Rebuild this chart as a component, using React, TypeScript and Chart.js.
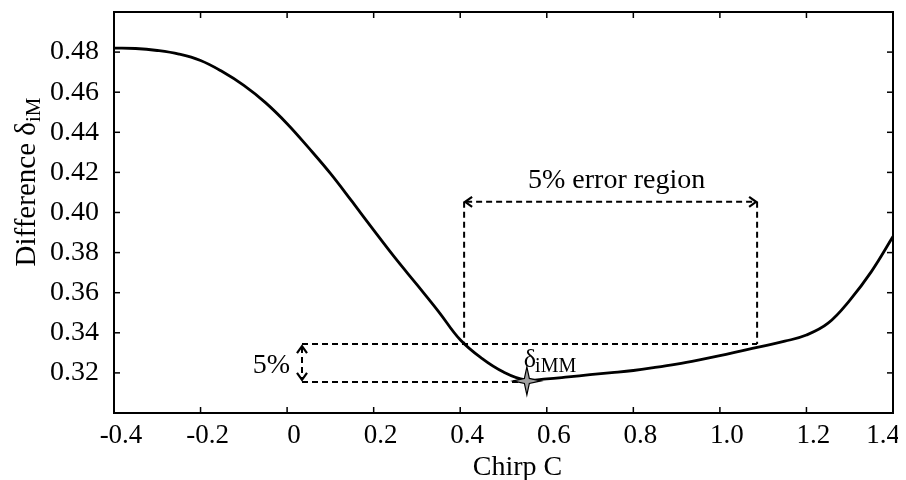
import React, { useEffect, useRef } from "react";
import { Chart, registerables } from "chart.js";

Chart.register(...registerables);

// ---- data ----
const chirp = [
  -0.4, -0.35, -0.3, -0.25, -0.2, -0.15, -0.1, -0.05, 0.0, 0.05, 0.1, 0.15, 0.2,
  0.25, 0.3, 0.35, 0.4, 0.45, 0.5, 0.55, 0.6, 0.65, 0.7, 0.75, 0.8, 0.85, 0.9,
  0.95, 1.0, 1.05, 1.1, 1.15, 1.2, 1.25, 1.3, 1.35, 1.4,
];
const difference = [
  0.482, 0.4818, 0.4808, 0.479, 0.4758, 0.4703, 0.4634, 0.4548, 0.4443, 0.4322,
  0.4195, 0.4055, 0.3912, 0.3772, 0.3640, 0.3506, 0.3365, 0.3272, 0.3204, 0.3165,
  0.317, 0.318, 0.3191, 0.3201, 0.3212, 0.3227, 0.3244, 0.3264, 0.3286, 0.331,
  0.3334, 0.3358, 0.3389, 0.3448, 0.3562, 0.3705, 0.388,
];

const xTicks = [-0.4, -0.2, 0, 0.2, 0.4, 0.6, 0.8, 1.0, 1.2, 1.4];
const xTickLabels = ["-0.4", "-0.2", "0", "0.2", "0.4", "0.6", "0.8", "1.0", "1.2", "1.4"];
const yTicks = [0.32, 0.34, 0.36, 0.38, 0.4, 0.42, 0.44, 0.46, 0.48];
const yTickLabels = ["0.32", "0.34", "0.36", "0.38", "0.40", "0.42", "0.44", "0.46", "0.48"];

const errorRegionX = [0.409, 1.086];
const errorRegionY = [0.3344, 0.4053];
const minimumLevel = 0.3155;
const toleranceX = 0.0344;
const minimumPoint = [0.554, 0.316];

const SERIF = "'Liberation Serif', 'Times New Roman', serif";
const W = 898;
const H = 472;

const annotations = {
  id: "annotations",
  afterDatasetsDraw(chart: any) {
    const { ctx, chartArea: a } = chart;
    const x = chart.scales.x;
    const y = chart.scales.y;
    const line = (x1: number, y1: number, x2: number, y2: number) => {
      ctx.beginPath();
      ctx.moveTo(x1, y1);
      ctx.lineTo(x2, y2);
      ctx.stroke();
    };
    ctx.save();
    ctx.strokeStyle = "#000";
    ctx.fillStyle = "#000";

    // frame
    ctx.lineWidth = 2;
    ctx.strokeRect(a.left, a.top, a.right - a.left, a.bottom - a.top);

    // inward ticks (mirrored)
    ctx.lineWidth = 1.5;
    const tl = 6;
    xTicks.forEach((v) => {
      const px = x.getPixelForValue(v);
      line(px, a.bottom, px, a.bottom - tl);
      line(px, a.top, px, a.top + tl);
    });
    yTicks.forEach((v) => {
      const py = y.getPixelForValue(v);
      line(a.left, py, a.left + tl, py);
      line(a.right, py, a.right - tl, py);
    });

    // x tick labels
    ctx.font = `27px ${SERIF}`;
    ctx.textAlign = "center";
    ctx.textBaseline = "alphabetic";
    xTicks.forEach((v, i) => {
      const txt = xTickLabels[i];
      const w = ctx.measureText(txt).width;
      let cx = x.getPixelForValue(v) + 7;
      if (cx + w / 2 > chart.width - 6) cx = chart.width - 6 - w / 2;
      ctx.fillText(txt, cx, a.bottom + 30);
    });

    // dashed annotation lines
    const xl = x.getPixelForValue(errorRegionX[0]);
    const xr = x.getPixelForValue(errorRegionX[1]);
    const yLow = y.getPixelForValue(errorRegionY[0]);
    const yTop = y.getPixelForValue(errorRegionY[1]);
    const yMin = y.getPixelForValue(minimumLevel);
    const xTol = x.getPixelForValue(toleranceX);
    const sx = x.getPixelForValue(minimumPoint[0]);
    const sy = y.getPixelForValue(minimumPoint[1]);

    ctx.lineWidth = 2;
    ctx.setLineDash([6, 4]);
    line(xTol, yLow, xr, yLow);
    line(xTol, yMin, sx, yMin);
    line(xl, yTop, xl, yLow);
    line(xr, yTop, xr, yLow);
    line(xl + 2, yTop, xr - 2, yTop);
    line(xTol, yLow + 3, xTol, yMin - 3);
    ctx.setLineDash([]);

    // arrow heads
    ctx.lineWidth = 2.2;
    const ah = 8;
    const aw = 5;
    ctx.beginPath();
    ctx.moveTo(xl + ah, yTop - aw);
    ctx.lineTo(xl + 1, yTop);
    ctx.lineTo(xl + ah, yTop + aw);
    ctx.stroke();
    ctx.beginPath();
    ctx.moveTo(xr - ah, yTop - aw);
    ctx.lineTo(xr - 1, yTop);
    ctx.lineTo(xr - ah, yTop + aw);
    ctx.stroke();
    ctx.beginPath();
    ctx.moveTo(xTol - aw, yLow + ah + 1);
    ctx.lineTo(xTol, yLow + 2);
    ctx.lineTo(xTol + aw, yLow + ah + 1);
    ctx.stroke();
    ctx.beginPath();
    ctx.moveTo(xTol - aw, yMin - ah - 1);
    ctx.lineTo(xTol, yMin - 2);
    ctx.lineTo(xTol + aw, yMin - ah - 1);
    ctx.stroke();

    // star marker at the minimum
    ctx.beginPath();
    const rOut = 14;
    const rIn = 3.5;
    for (let i = 0; i < 8; i++) {
      const ang = (Math.PI / 4) * i - Math.PI / 2;
      const r = i % 2 === 0 ? rOut : rIn;
      const px = sx + Math.cos(ang) * r;
      const py = sy + Math.sin(ang) * r;
      if (i === 0) ctx.moveTo(px, py);
      else ctx.lineTo(px, py);
    }
    ctx.closePath();
    ctx.fillStyle = "#a0a0a0";
    ctx.fill();
    ctx.lineWidth = 1.2;
    ctx.strokeStyle = "#000";
    ctx.stroke();
    ctx.fillStyle = "#000";

    // texts
    ctx.textBaseline = "alphabetic";
    ctx.font = `28px ${SERIF}`;
    ctx.textAlign = "center";
    ctx.fillText("5% error region", (xl + xr) / 2 + 6, yTop - 14);
    ctx.textAlign = "right";
    ctx.fillText("5%", xTol - 12, (yLow + yMin) / 2 + 10);

    ctx.textAlign = "left";
    ctx.font = `26px ${SERIF}`;
    ctx.fillText("δ", sx - 3, sy - 14);
    const dw = ctx.measureText("δ").width;
    ctx.font = `20px ${SERIF}`;
    ctx.fillText("iMM", sx - 3 + dw - 1, sy - 9);

    // x axis title
    ctx.font = `28px ${SERIF}`;
    ctx.textAlign = "center";
    ctx.fillText("Chirp C", (a.left + a.right) / 2 + 14, chart.height - 5);

    // y axis title (rotated)
    ctx.save();
    ctx.translate(27, 174);
    ctx.rotate(-Math.PI / 2);
    ctx.textAlign = "left";
    ctx.font = `29px ${SERIF}`;
    const main = "Difference δ";
    const w1 = ctx.measureText(main).width;
    ctx.font = `21px ${SERIF}`;
    const w2 = ctx.measureText("iM").width;
    const start = -(w1 + w2) / 2;
    ctx.font = `29px ${SERIF}`;
    ctx.fillText(main, start, 0);
    ctx.font = `21px ${SERIF}`;
    ctx.fillText("iM", start + w1, 5);
    ctx.restore();

    ctx.restore();
  },
};

export default function App() {
  const ref = useRef<HTMLCanvasElement | null>(null);
  useEffect(() => {
    if (!ref.current) return;
    const chart = new Chart(ref.current, {
      type: "line",
      data: {
        datasets: [
          {
            data: chirp.map((c, i) => ({ x: c, y: difference[i] })),
            borderColor: "#000",
            borderWidth: 2.8,
            pointRadius: 0,
            fill: false,
            tension: 0.4,
          },
        ],
      },
      options: {
        animation: false,
        responsive: false,
        devicePixelRatio: 1,
        layout: { padding: { top: 4, right: 13, left: 0, bottom: 0 } },
        plugins: { legend: { display: false }, tooltip: { enabled: false } },
        scales: {
          x: {
            type: "linear",
            min: -0.4,
            max: 1.4,
            afterBuildTicks: (s: any) => {
              s.ticks = xTicks.map((v) => ({ value: v }));
            },
            afterFit: (s: any) => {
              s.height = 67;
              s.paddingLeft = 0;
              s.paddingRight = 0;
            },
            ticks: { display: false },
            grid: { display: false, drawTicks: false },
            border: { display: false },
          },
          y: {
            type: "linear",
            min: 0.3,
            max: 0.5,
            afterBuildTicks: (s: any) => {
              s.ticks = yTicks.map((v) => ({ value: v }));
            },
            afterFit: (s: any) => {
              s.width = 106;
              s.paddingTop = 0;
              s.paddingBottom = 0;
            },
            ticks: {
              autoSkip: false,
              padding: 15,
              color: "#000",
              font: { family: SERIF, size: 28 },
              callback: (_v: any, i: number) => yTickLabels[i],
            },
            grid: { display: false, drawTicks: false },
            border: { display: false },
          },
        },
      },
      plugins: [annotations],
    });
    return () => chart.destroy();
  }, []);
  return (
    <div style={{ width: W, height: H }}>
      <canvas ref={ref} width={W} height={H} style={{ display: "block", width: W, height: H }} />
    </div>
  );
}
